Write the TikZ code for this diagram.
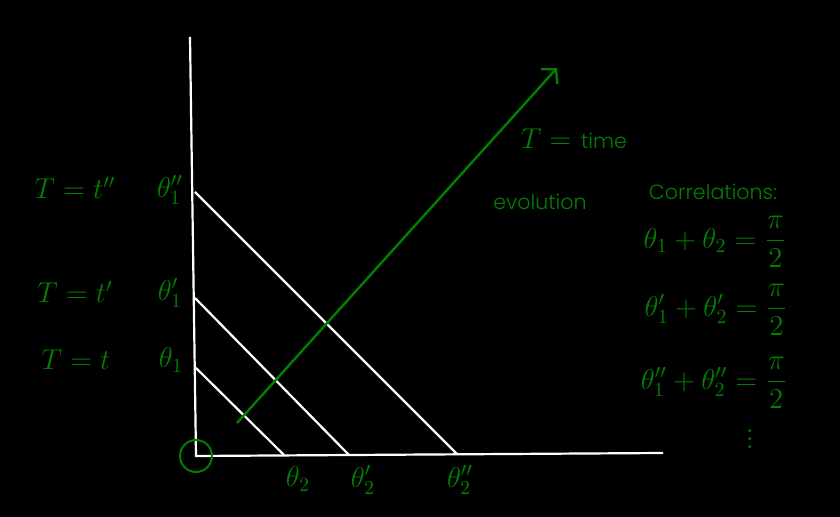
\documentclass[tikz,border=0pt]{standalone}
\usepackage{fontspec}
\usetikzlibrary{arrows.meta}
\newfontfamily\finafont{Poppins Light}
\definecolor{verde}{rgb}{0,0.5,0}

\begin{document}
\begin{tikzpicture}[x=0.5pt,y=-0.5pt,
    rotulo/.style={text=verde, font=\fontsize{14.8}{17}\selectfont, inner sep=0pt},
    texto/.style={text=verde, font=\finafont\fontsize{10.3}{12}\selectfont, inner sep=0pt}]
    \fill[black] (0,0) rectangle (840,517);

    % eixos
    \coordinate (topo) at (190,37);
    \coordinate (origem) at (196,456);
    \coordinate (fim) at (663,453);
    \draw[white, line width=1.1pt] (topo) -- (origem) -- (fim);

    % retas
    \coordinate (a1) at (196,368); \coordinate (a2) at (284,455);
    \coordinate (b1) at (195,298); \coordinate (b2) at (349,455);
    \coordinate (c1) at (195,192); \coordinate (c2) at (457,454);
    \draw[white, line width=1.1pt] (a1) -- (a2);
    \draw[white, line width=1.1pt] (b1) -- (b2);
    \draw[white, line width=1.1pt] (c1) -- (c2);

    % seta do tempo
    \coordinate (ini) at (237,423);
    \coordinate (ponta) at (557,68);
    \draw[verde, line width=1.2pt, -{Straight Barb[length=5pt,width=11pt]}] (ini) -- (ponta);
    \draw[verde, line width=1pt] (origem) circle (16);

    \node[rotulo] (tc) at (75,188) {$T=t''$};
    \node[rotulo] (tb) at (75,292) {$T=t'$};
    \node[rotulo] (ta) at (76,360) {$T=t$};
    \node[rotulo] (pc) at (170,190) {$\theta_1''$};
    \node[rotulo] (pb) at (170,293) {$\theta_1'$};
    \node[rotulo] (pa) at (171,360) {$\theta_1$};
    \node[rotulo] (qa) at (298,479) {$\theta_2$};
    \node[rotulo] (qb) at (363,480) {$\theta_2'$};
    \node[rotulo] (qc) at (460,480) {$\theta_2''$};

    \node[rotulo] (tempo) at (574,139) {$T=$ \finafont\fontsize{10.3}{12}\selectfont time};
    \node[texto] (evol) at (540,202) {evolution};
    \node[texto] (corr) at (713,192) {Correlations:};
    \node[rotulo] (eqa) at (715,242) {$\theta_1+\theta_2=\displaystyle\frac{\pi}{2}$};
    \node[rotulo] (eqb) at (716,310) {$\theta_1'+\theta_2'=\displaystyle\frac{\pi}{2}$};
    \node[rotulo] (eqc) at (714,383) {$\theta_1''+\theta_2''=\displaystyle\frac{\pi}{2}$};
    \node[rotulo] (pts) at (750,433) {$\vdots$};
\end{tikzpicture}
\end{document}
